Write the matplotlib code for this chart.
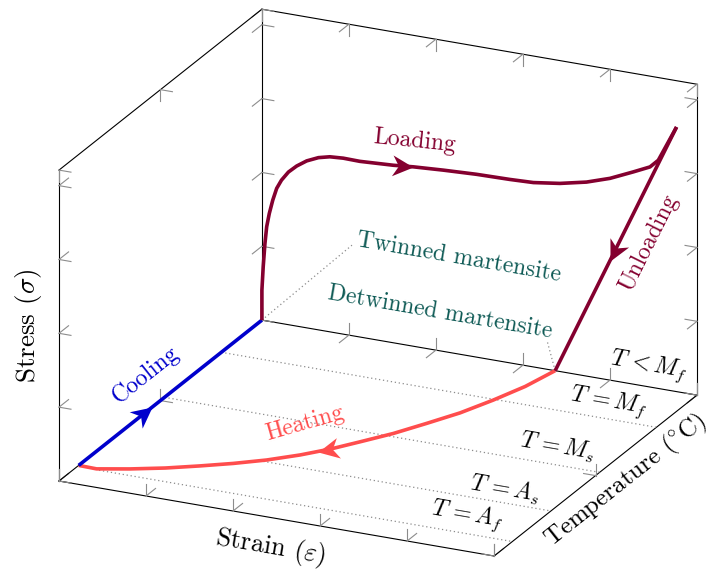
import numpy as np
import matplotlib
matplotlib.use("Agg")
import matplotlib.pyplot as plt
from matplotlib.markers import MarkerStyle
from matplotlib.path import Path
from mpl_toolkits.mplot3d import proj3d

plt.rcParams['font.family'] = 'cmr10'
plt.rcParams['mathtext.fontset'] = 'cm'
plt.rcParams['axes.unicode_minus'] = False

########
# Data #
########
# x = strain, y = temperature (0 = front/hot, 1 = back/cold), z = stress
# everything normalised to the box
load_strain = [0.0, 0.0, 0.003, 0.007, 0.011, 0.017, 0.025, 0.034, 0.045, 0.061,
               0.080, 0.103, 0.130, 0.156, 0.187, 0.225, 0.302, 0.348, 0.417,
               0.493, 0.570, 0.624, 0.685, 0.746, 0.800, 0.854, 0.892, 0.911, 0.953]
load_stress = [0.0, 0.096, 0.172, 0.248, 0.303, 0.347, 0.392, 0.432, 0.461, 0.491,
               0.515, 0.537, 0.554, 0.563, 0.566, 0.565, 0.571, 0.577, 0.583,
               0.588, 0.590, 0.593, 0.605, 0.624, 0.649, 0.683, 0.708, 0.734, 0.851]

unload_strain = [0.953, 0.674]
unload_stress = [0.851, 0.0]

heat_strain = [0.674, 0.655, 0.627, 0.595, 0.557, 0.518, 0.475, 0.440, 0.418,
               0.393, 0.342, 0.287, 0.230, 0.170, 0.105, 0.042, 0.0]
heat_temp = [1.0, 0.893, 0.795, 0.701, 0.618, 0.537, 0.465, 0.408, 0.378,
             0.345, 0.290, 0.243, 0.201, 0.160, 0.124, 0.095, 0.097]

cool_temp = [0.097, 1.0]

temp_names = [r'$T\,= M_f$', r'$T\,= M_s$', r'$T\,= A_s$', r'$T\,= A_f$']
temp_levels = [0.80, 0.52, 0.28, 0.09]
temp_line_start = [0.0, 0.0, 0.33, 0.05]

strain_ticks = [0.0, 0.2, 0.4, 0.6, 0.8, 1.0]
temp_ticks = [0.0, 0.5, 1.0]
stress_ticks = [0.0, 0.2375, 0.475, 0.7125, 0.95]

maroon = '#84002f'
blue = '#0000cc'
red = '#ff4d4d'
teal = '#0e5a55'
grey = '#8c8c8c'

#########
# Setup #
#########
W, H = 716, 575
aspect = (1, 1, 0.697)
side = 484
fig = plt.figure(figsize=(W / 100, H / 100), dpi=100)
ax = fig.add_axes([(378 - side / 2) / W, (293 - side / 2) / H, side / W, side / H],
                  projection='3d', proj_type='ortho', computed_zorder=False)
ax.set_box_aspect(aspect)
ax.view_init(elev=21.7, azim=-65)
ax.set_xlim(0, 1)
ax.set_ylim(0, 1)
ax.set_zlim(0, 1)
ax.set_axis_off()


def to_px(xs, ys, zs):
    px, py, _ = proj3d.proj_transform(np.atleast_1d(xs), np.atleast_1d(ys),
                                      np.atleast_1d(zs), ax.get_proj())
    return ax.transData.transform(np.column_stack([px, py]))


# zoom / shift the box so its corners sit where they do in the reference
ta = np.array([59.0, H - 481.0])
tb = np.array([697.0, H - 83.0])
fig.canvas.draw()
a, b = to_px([0, 1], [0, 1], [0, 1])
ax.set_box_aspect(aspect, zoom=(tb - ta)[0] / (b - a)[0])
fig.canvas.draw()
a, b = to_px([0, 1], [0, 1], [0, 1])
pos = ax.get_position()
ax.set_position([pos.x0 + (ta[0] - a[0]) / W, pos.y0 + (ta[1] - a[1]) / H,
                 pos.width, pos.height])

#######
# Box #
#######
# (axis the edge runs along, the two other coordinates)
edges = [(2, 0, 0), (2, 0, 1), (2, 1, 1),
         (0, 0, 0), (0, 1, 1), (0, 1, 0),
         (1, 0, 1), (1, 1, 0), (1, 0, 0)]
ticks = [strain_ticks, temp_ticks, stress_ticks]
arm = [0.0275, 0.047, 0.038]


def point(axis, t, c1, c2):
    p = [c1, c2]
    p.insert(axis, t)
    return p


for axis, c1, c2 in edges:
    p0 = point(axis, 0, c1, c2)
    p1 = point(axis, 1, c1, c2)
    ax.plot([p0[0], p1[0]], [p0[1], p1[1]], [p0[2], p1[2]], color='black', lw=0.8,
            zorder=1, clip_on=False)
    others = [k for k in range(3) if k != axis]
    for t in ticks[axis]:
        p = point(axis, t, c1, c2)
        for k in others:
            q = list(p)
            q[k] += arm[k] if p[k] == 0 else -arm[k]
            ax.plot([p[0], q[0]], [p[1], q[1]], [p[2], q[2]], color=grey, lw=0.8,
                    zorder=1, clip_on=False)

# temperature levels
for lvl, x_start in zip(temp_levels, temp_line_start):
    ax.plot([x_start, 1], [lvl, lvl], [0, 0], color=grey, lw=0.9,
            dashes=(1, 2.2), zorder=1, clip_on=False)

# pins of the martensite labels
ax.plot([load_strain[0], 0.207], [1, 1], [load_stress[0], 0.291], color=grey,
        lw=0.9, dashes=(1, 2.2), zorder=1, clip_on=False)
ax.plot([unload_strain[-1], 0.655], [1, 1], [unload_stress[-1], 0.094], color=grey,
        lw=0.9, dashes=(1, 2.2), zorder=1, clip_on=False)

##########
# Curves #
##########
ax.plot(heat_strain, heat_temp, np.zeros(len(heat_temp)), color=red, lw=2.6,
        solid_capstyle='butt', solid_joinstyle='round', zorder=2, clip_on=False)
ax.plot([0, 0], cool_temp, [0, 0], color=blue, lw=2.6, solid_capstyle='butt',
        zorder=2, clip_on=False)
ax.plot(load_strain, np.ones(len(load_strain)), load_stress, color=maroon, lw=2.6,
        solid_capstyle='butt', solid_joinstyle='round', zorder=2, clip_on=False)
ax.plot(unload_strain, [1, 1], unload_stress, color=maroon, lw=2.6,
        solid_capstyle='butt', zorder=2, clip_on=False)

stealth = Path([(0, 0), (-1, 0.5), (-0.7, 0), (-1, -0.5), (0, 0)],
               [Path.MOVETO, Path.LINETO, Path.LINETO, Path.LINETO, Path.CLOSEPOLY])


def screen_angle(p, direction):
    pts = np.array([p, p + 0.01 * np.asarray(direction, float)])
    d = to_px(pts[:, 0], pts[:, 1], pts[:, 2])
    return d[0], np.degrees(np.arctan2(d[1, 1] - d[0, 1], d[1, 0] - d[0, 0]))


def arrow_head(p, q, frac, color):
    p = np.array(p, float)
    q = np.array(q, float)
    tip = p + frac * (q - p)
    _, ang = screen_angle(tip, q - p)
    ax.plot([tip[0]], [tip[1]], [tip[2]], linestyle='none',
            marker=MarkerStyle(stealth).rotated(deg=ang), ms=30,
            color=color, mew=0, zorder=3, clip_on=False)


arrow_head((load_strain[16], 1, load_stress[16]), (load_strain[17], 1, load_stress[17]), 1.0, maroon)
arrow_head((unload_strain[0], 1, unload_stress[0]), (unload_strain[1], 1, unload_stress[1]), 0.55, maroon)
arrow_head((heat_strain[7], heat_temp[7], 0), (heat_strain[8], heat_temp[8], 0), 1.0, red)
arrow_head((0, cool_temp[0], 0), (0, cool_temp[1], 0), 0.40, blue)

##########
# Labels #
##########
X, Y, Z = (1, 0, 0), (0, 1, 0), (0, 0, 1)


def label(p, s, direction, color='black', size=17):
    # text centred on the projected 3d point, turned along a 3d direction
    xy, ang = screen_angle(np.array(p, float), direction)
    fig.text(xy[0] / W, xy[1] / H, s, rotation=ang, ha='center', va='center',
             color=color, fontsize=size)


label((0.352, 1, 0.660), 'Loading', (1, 0, 0.1), maroon)
label((0.890, 1, 0.462), 'Unloading', (0.279, 0, 0.851), maroon)
label((0, 0.424, 0.1215), 'Cooling', Y, blue)
label((0.326, 0.512, 0), 'Heating', (1, 1.94, 0), red)
label((0.453, 1, 0.309), 'Twinned martensite', X, teal)
label((0.409, 1, 0.124), 'Detwinned martensite', X, teal)

label((0.890, 1, 0.067), r'$T\,< M_f$', X)
label_pos = [(0.850, 0.887), (0.861, 0.612), (0.861, 0.352), (0.851, 0.185)]
for name, (lx, ly) in zip(temp_names, label_pos):
    label((lx, ly, 0), name, X)

label((-0.071, 0, 0.481), r'Stress ($\sigma$)', Z, size=19.5)
label((0.556, -0.151, 0), r'Strain ($\varepsilon$)', X, size=19)
label((1.069, 0.500, 0), r'Temperature ($^{\circ}$C)', Y, size=18)

fig.savefig('out.png', dpi=100)
